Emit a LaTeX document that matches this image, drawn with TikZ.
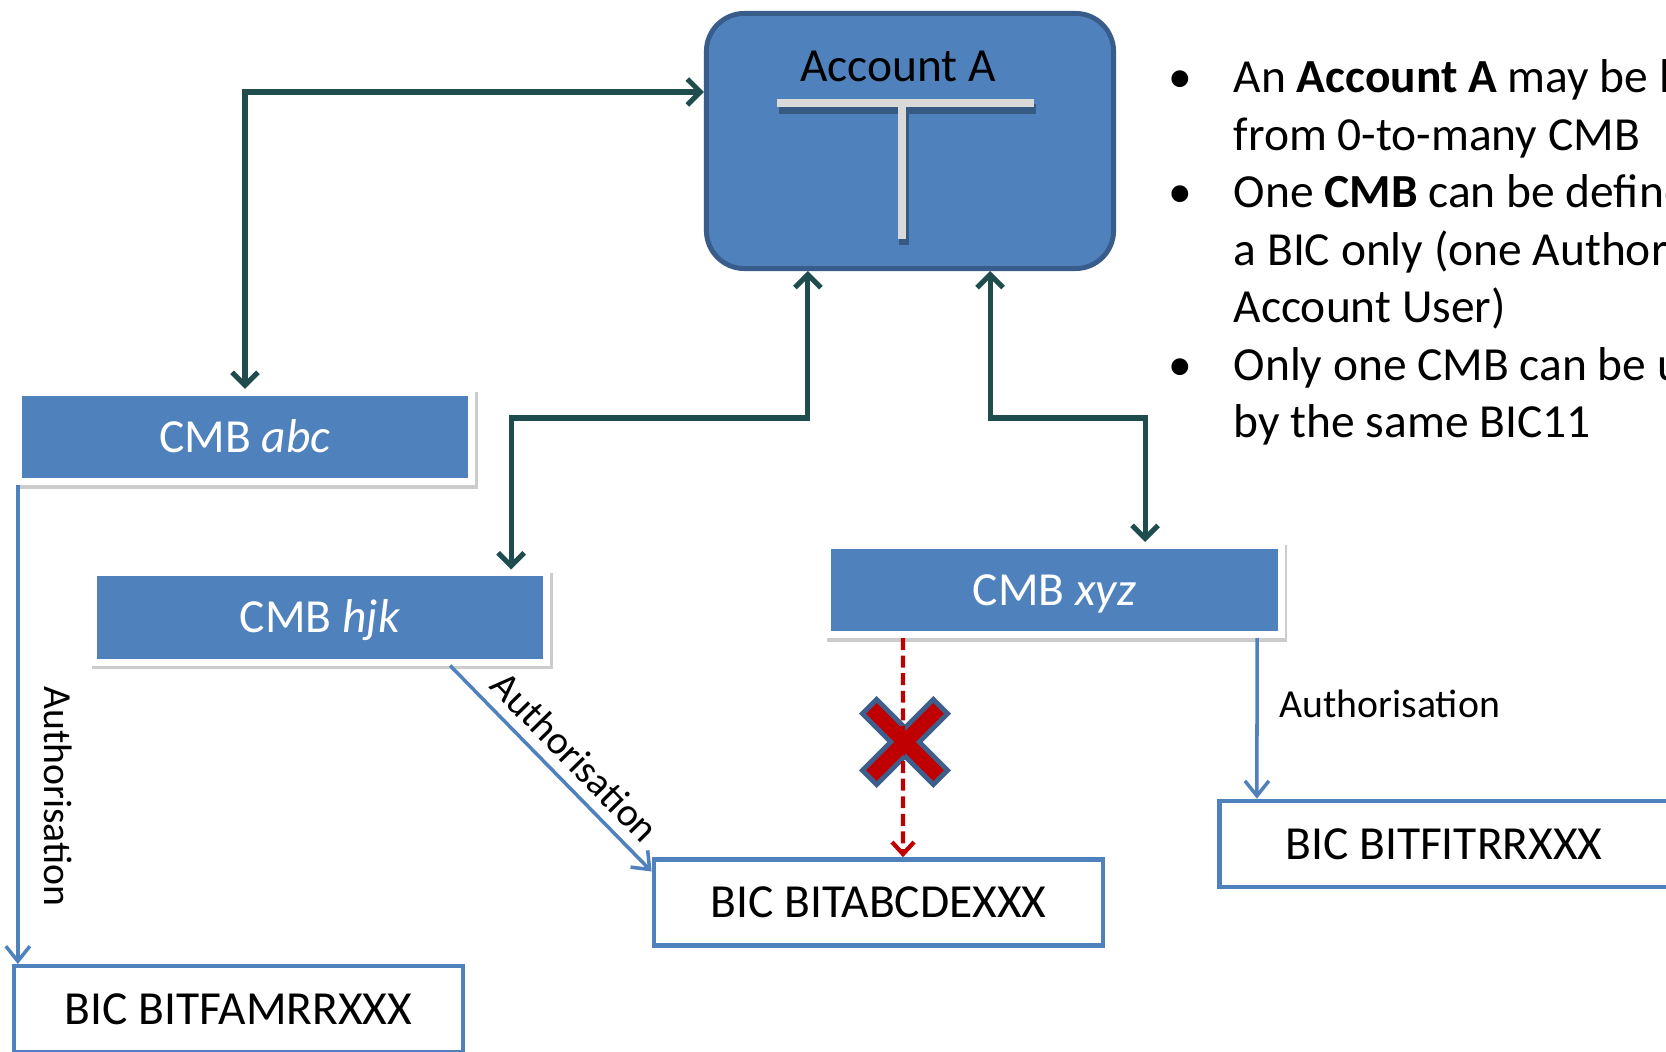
\documentclass[tikz,border=0pt]{standalone}
\usepackage{fontspec}
\setmainfont{Carlito}
\usetikzlibrary{arrows.meta,calc}
\definecolor{blueA}{HTML}{4F81BD}
\definecolor{accBorder}{HTML}{385D8A}
\definecolor{tealA}{HTML}{1F4D4E}
\definecolor{redA}{HTML}{C00000}
\definecolor{tgray}{HTML}{D9D9D9}
\definecolor{xborder}{HTML}{3E5F8C}
\tikzset{
 bigfont/.style={font=\fontsize{13.5pt}{16.4pt}\selectfont},
 lblfont/.style={font=\fontsize{11.3pt}{13.7pt}\selectfont},
 account/.style={draw=accBorder, line width=1.4pt, fill=blueA, rounded corners=0.38cm,
   minimum width=4.07cm, minimum height=2.55cm, inner sep=0pt},
 cmbbox/.style={draw=white, line width=2pt, fill=blueA, minimum width=4.53cm, minimum height=0.89cm,
   inner sep=0pt, text=white, bigfont, text height=0.3cm, text depth=0pt,
   preaction={draw=black!20, fill=black!20, line width=2pt, transform canvas={xshift=0.025cm,yshift=-0.035cm}}},
 bicbox/.style={draw=blueA, line width=1.3pt, fill=white, minimum width=4.49cm, minimum height=0.86cm,
   inner sep=0pt, bigfont, text height=0.3cm, text depth=0pt},
 link/.style={draw=tealA, line width=1.45pt,
   {Straight Barb[length=0.13cm,width=0.26cm]}-{Straight Barb[length=0.13cm,width=0.26cm]}},
 auth/.style={draw=blueA, line width=1pt, -{Straight Barb[length=0.15cm,width=0.24cm]}},
 blocked/.style={draw=redA, line width=1.2pt, dash pattern=on 3.4pt off 1.6pt,
   -{Straight Barb[length=0.12cm,width=0.22cm]}},
 lbl/.style={lblfont, inner sep=0pt},
 txt/.style={bigfont, anchor=base west, inner sep=0pt},
 bul/.style={bigfont, anchor=base, inner sep=0pt},
}
\begin{document}
\begin{tikzpicture}[x=0.01cm,y=-0.01cm]
\useasboundingbox (0,0) rectangle (1666,1052);
\clip (0,0) rectangle (1666,1052);

% Account A
\node[account] (acc) at (910,141) {};
\draw[black, opacity=0.3, line width=2.6pt] (779,109) -- (1036,109) (904,109) -- (904,245);
\draw[tgray, line width=2pt] (777,103) -- (1034,103) (902,103) -- (902,239);
\node[bigfont, anchor=base, inner sep=0pt] (acct) at (898,82) {Account A};

% CMB boxes
\node[cmbbox] (abc) at (245,437) {CMB \textit{abc}};
\node[cmbbox] (hjk) at (320,617.5) {CMB \textit{hjk}};
\node[cmbbox] (xyz) at (1054.5,590) {CMB \textit{xyz}};

% BIC boxes
\node[bicbox] (famr) at (238.5,1009) {BIC BITFAMRRXXX};
\node[bicbox] (abcd) at (878.5,902.5) {BIC BITABCDEXXX};
\node[bicbox] (fitr) at (1444,844) {BIC BITFITRRXXX};

% account links
\draw[link] (abc.north) |- ([yshift=0.49cm]acc.west);
\draw[link] ([xshift=-1.02cm]acc.south) -- ++(0,147) -| ([xshift=1.91cm]hjk.north);
\draw[link] ([xshift=0.80cm]acc.south) -- ++(0,147) -| ([xshift=0.905cm]xyz.north);

% authorisations
\draw[auth] ([xshift=0.03cm]abc.south west) -- ++(0,479)
  node[lbl, pos=0.65, xshift=0.40cm, rotate=-90] {Authorisation};
\draw[auth] ([xshift=1.30cm]hjk.south) -- ([yshift=0.31cm]abcd.west)
  node[lbl, pos=0.53, sloped, above=0.1cm] {Authorisation};
\draw[auth] ([xshift=2.025cm]xyz.south) -- ([xshift=-1.87cm]fitr.north)
  node[lbl, pos=0.41, right=0.21cm] {Authorisation};

% forbidden link
\begin{scope}[shift={(905,742)}, rotate=45]
\draw[xborder, line width=2.85pt] (-47.5,-7.5) rectangle (47.5,7.5) (-7.5,-47.5) rectangle (7.5,47.5);
\fill[redA] (-47.5,-7.5) rectangle (47.5,7.5) (-7.5,-47.5) rectangle (7.5,47.5);
\end{scope}
\draw[blocked] ([xshift=-1.515cm]xyz.south) -- ([xshift=0.245cm]abcd.north);

% bullet list
\node[bul] (d1) at (1180,93) {•};
\node[bul] (d2) at (1180,208) {•};
\node[bul] (d3) at (1180,380.5) {•};
\node[txt] (t1) at (1233,93) {An \textbf{Account A} may be linked};
\node[txt] (t2) at (1233,150.5) {from 0-to-many CMB};
\node[txt] (t3) at (1233,208) {One \textbf{CMB} can be defined for};
\node[txt] (t4) at (1233,265.5) {a BIC only (one Authorised};
\node[txt] (t5) at (1233,323) {Account User)};
\node[txt] (t6) at (1233,380.5) {Only one CMB can be used};
\node[txt] (t7) at (1233,438) {by the same BIC11};
\end{tikzpicture}
\end{document}
